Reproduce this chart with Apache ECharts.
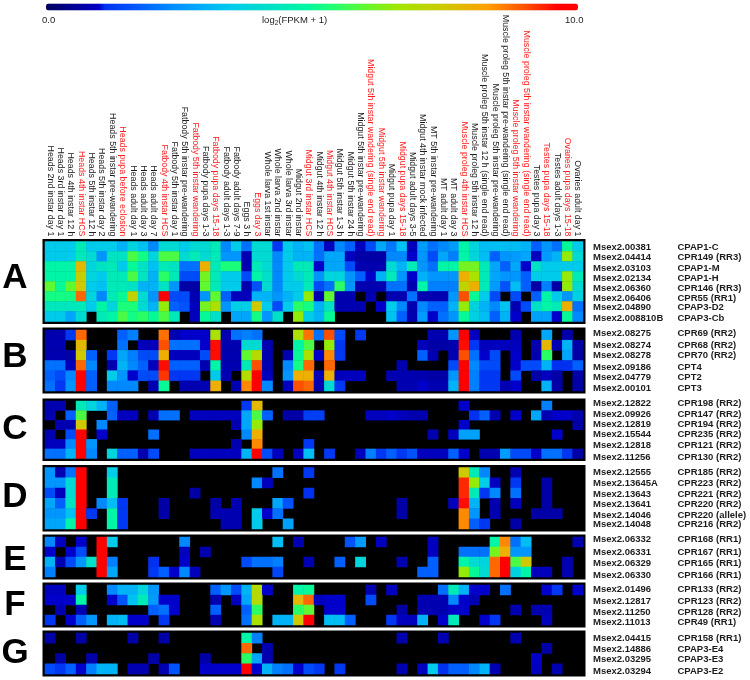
<!DOCTYPE html>
<html><head><meta charset="utf-8">
<style>html,body{margin:0;padding:0;background:#fff}#c{width:750px;height:680px}</style>
<script src="https://cdn.jsdelivr.net/npm/echarts@6/dist/echarts.min.js"></script>
</head><body><div id="c"></div>
<script>
const samples = ["Heads 2nd instar day 1","Heads 3rd instar day 1","Heads 4th instar 12 h","*Heads 4th instar HCS","Heads 5th instar 12 h","Heads 5th instar day 2","Heads 5th instar pre-wandering","*Heads pupa before eclosion","Heads adult day 1","Heads adult day 3","Heads adult day 7","*Fatbody 4th instar HCS","Fatbody 5th instar day 1","Fatbody 5th instar pre-wandering","*Fatbody 5th instar wandering","Fatbody pupa days 1-3","*Fatbody pupa days 15-18","Fatbody adult days 1-3","Fatbody adult days 7-9","Eggs 3 h","*Eggs day 3","Whole larva 1st instar","Whole larva 2nd instar","Whole larva 3rd instar","Midgut 2nd instar","*Midgut 3rd instar HCS","Midgut 4th instar 12 h","*Midgut 4th instar HCS","Midgut 5th instar 1-3 h","Midgut 5th instar 24 h","Midgut 5th instar pre-wandering","*Midgut 5th instar wandering (single end read)","*Midgut 5th instar wandering","Midgut pupa day 1","*Midgut pupa days 15-18","Midgut adult days 3-5","Midgut 4th instar mock infected","MT 5th instar pre-wandering","MT adult day 1","MT adult day 3","*Muscle proleg 4th instar HCS","Muscle proleg 5th instar 12 h","Muscle proleg 5th instar 12 h (single end read)","Muscle proleg 5th instar pre-wandering","Muscle proleg 5th instar pre-wandering (single end read)","*Muscle proleg 5th instar wandering","*Muscle proleg 5th instar wandering (single end read)","Testes pupa day 3","*Testes pupa days 15-18","Testes adult days 1-3","*Ovaries pupa days 15-18","Ovaries adult day 1"];

const panelA = [
[3.5,3.5,3.5,4.5,3.5,3.5,3.5,3,3.8,3.3, 2.3,4,4,3.5,4,4,4.5,2.3,3.5,2, 4,4,1.2,3.5,3,3.3,2,.9,2.3,1.8, .9,1.5,2.8,2.1,3.3,.9,2.6,2,2.3,2.6, 4.8,3.8,3.2,3.2,3.2,3.2,3,1.8,2.5,2, 5,3.5],
[3.5,3.5,3.5,4.5,4,2.5,4.3,4.3,5.8,5.2, 3.8,5.8,5.8,4,4.5,4,4.5,2.5,2.5,.8, 4,4,2.3,3.5,3,3,2,2.8,2.8,.9, .7,.7,.7,2.3,2.3,1,2.5,1.5,2.8,2.2, 4.8,3.8,3.2,1.8,2.5,2.6,2.8,.9,2.6,3, 6.5,4],
[4.8,4.8,4.8,7.8,3.8,4.3,4.5,3.5,5,4.3, 3.3,4.5,4.3,2,2,8,4.5,5.3,5.3,.8, 4.5,4,2.3,3.5,4.5,4.5,1,2.8,2.8,1.5, .8,.8,.8,4,3,4.5,2.5,2,4.8,4.8, 6.2,6.2,4.5,2.8,1.8,2.8,1,4.2,3.5,3.5, 3.5,3.5],
[4.8,4.8,4.8,7.3,3.8,3.5,4.5,4.5,5.8,4.3, 3,5.5,4.5,1.5,1.5,6.2,4.5,3.5,3.5,1.5, 4.8,4.2,2.3,3.5,4,4.5,2.5,3.8,3.8,2.5, 1.8,1,3,4.5,2.5,1,3,2.5,2.5,2.5, 8,6.8,4.5,2.8,2.5,2.5,1.8,3.5,3.5,3.5, 6.5,4.5],
[6,5,6,7.5,3.5,3.3,4.5,4.5,4.3,3, 3,4.3,2.5,.7,.7,6,4.5,3.5,3.5,.8, 1.6,4,2.3,3.5,3.5,4.5,1.5,2,5.5,2.5, .8,.8,.8,2,2,.8,4.8,2.2,2.2,2.2, 7.2,8,4.5,2.6,1.6,3.2,1.8,.7,2.2,.7, 6.5,4],
[5.2,5.2,5.2,8.8,3.8,2.3,4.5,5,7.2,4, 2.5,9.6,1.5,1.5,.8,2.5,6,1.8,.9,.9, 3,3,2.5,3,3.5,6.5,.8,6,.8,.8, 0,.8,0,.8,.8,2,.8,.8,.8,2.5, 9,5,3.5,1.5,0,1.5,0,1.8,4.8,3.5, 2.5,3.7],
[4.4,4.4,4.4,4.5,3.5,4.8,3.8,5.3,5.3,4, 3,6.5,1.8,1.6,.9,6.2,6.8,2.5,3.6,3.6, 7.5,3.5,1.5,3.5,5.5,5.2,3,4.2,.8,.8, .8,0,1,3.5,2.3,.8,2.3,1.8,1.8,3, 6.5,3.7,3,2.3,3.3,.8,1.5,4.2,4.8,4.5, 8,2],
[3.5,3.5,2.8,4,0,4.5,4.8,5.8,5.2,5.5, 5,5.8,4.5,0,.9,5,4.2,0,2.8,2.8, 5.2,2.5,4.2,0,6.5,3.6,3,5,0,0, 0,0,0,3.3,1.8,.8,2.6,1,2,2.5, 5,3.7,3.2,1.8,3,1,0,2.7,2.7,1, 5,2.3]
];
const panelB = [
[.8,.8,1.2,8.8,0,0,0,1.8,2.2,0, 0,8.7,.8,1,1,1,6.8,.8,2,2.2, 2,0,0,0,6.8,8.7,2,9,1.5,0, 1.2,0,0,0,0,0,0,.8,.8,2.5, 9.6,.9,0,0,0,.8,0,0,2.8,0, .7,0],
[.8,.8,0,7.8,0,0,0,2,0,.9, .9,9,2,2,2,1,9.5,.8,.8,4, 4,.8,0,0,4.8,5.8,0,6.5,1.2,0, 0,0,0,0,0,0,.9,.7,.7,.8, 9.5,1.2,.9,.9,.9,.9,0,.8,7.8,.8, 3,.7],
[.8,.8,.7,7.5,1.8,0,1.2,2.8,2.2,1.5, 1.5,8,.9,.9,.9,1.5,9.5,.8,.8,6, 7,.8,0,.8,5,6.8,1,8.5,1.2,0, 0,0,0,0,0,0,1.8,.8,0,.8, 9,2,1,1.5,0,1,0,.8,5.5,0, 2.8,.7],
[2,2,.9,8.8,2.3,0,.8,3,2.3,1.8, .9,9.5,1.8,1.8,1.8,.8,4.8,.8,.8,4.5, 9,.8,0,2.3,5.2,8.8,0,8.8,0,0, 0,0,0,0,.8,0,0,0,0,1.5, 9.6,2.3,1.5,1.5,0,1,1.5,1.5,3,1.1, 1.1,1.8],
[1.8,1.5,2.3,9.7,1.8,0,3.5,2.5,1,1.5, 1.5,9.2,1.2,1.2,1.2,0,3.5,.8,0,7, 9.6,.9,0,2.5,8,8,.9,8,.9,.9, .9,0,0,.8,.8,.8,.8,.7,.7,2.5, 9.8,2.2,1.2,1.2,0,1.5,0,.7,.9,.7, 0,.7],
[2,1.2,2.5,9.7,1.8,0,2.3,2.3,2.3,0, .8,5,0,.8,.8,.8,8,0,.8,8.5, 9.6,2.3,0,.9,9,8.8,.8,4,1.2,0, 0,0,0,0,.8,.8,1,.8,.8,3, 9.8,2.2,1.2,1.2,.8,1,0,0,3,.7, 0,.7]
];
const panelC = [
[.8,.8,0,4.5,3.8,3,1.8,0,0,0, 0,0,0,0,0,0,0,0,0,1.2, 7.8,0,0,0,0,0,0,0,0,0, 0,0,0,0,0,0,0,0,0,0, 1,0,0,0,0,0,0,0,2.2,0, 0,0],
[.8,0,1.8,5.8,0,0,1.8,.9,.9,0, .8,2,2,0,.9,.9,.9,.9,.9,2.8, 5.8,1.8,0,.7,.7,1.3,1.3,0,0,0, 0,.9,.9,1,.9,.8,.8,0,0,0, 0,1.1,1.8,.8,0,1,0,2.8,.8,1, 1,.8],
[0,.8,.8,7.5,0,2.3,0,0,0,0, 0,0,0,0,0,0,0,0,.8,2.8, 6.5,0,0,0,0,0,0,0,0,0, 0,0,0,0,0,0,0,0,0,0, 1,0,0,0,0,0,0,0,0,0, 0,.7],
[.8,0,1.5,9.6,0,1,0,0,0,0, 2,0,0,0,0,0,0,0,0,2.3, 8,0,0,0,0,0,0,0,0,0, 0,0,0,0,0,0,0,.8,0,.9, 2.7,2.7,0,0,0,0,0,0,0,1, 0,0],
[.9,.9,2.3,9.7,2.5,0,0,0,0,0, 0,0,0,0,0,0,0,0,.8,0, 8.5,0,0,0,0,1.2,0,0,0,0, 0,0,0,0,0,0,0,0,0,0, 0,0,0,0,0,0,0,0,0,0, 0,0],
[2,2,3,9.7,2.3,0,3.8,1.8,1.8,.8, 1.5,0,0,0,.9,.9,.9,.9,.9,3, 9.6,1.5,.9,0,.9,3.2,0,1.2,0,0, .9,2.2,1.2,1.8,1.2,1.6,.9,.9,.9,1.8, 1,0,.8,.8,2.6,1.5,1.5,1,2,2, 1.2,.7]
];
const panelD = [
[2.5,.8,2,9.8,0,0,3.6,0,0,0, 0,0,0,0,0,0,0,0,0,0, 0,0,2,0,0,1.2,0,0,0,0, 0,0,0,0,0,0,0,0,0,0, 7.5,4.5,2.3,0,0,.8,0,0,0,0, 0,0],
[2.5,2.5,4,9.8,0,0,4.5,0,0,0, 0,0,0,0,0,0,0,0,0,0, 2.3,.9,0,0,0,0,0,0,0,0, 0,0,0,0,0,0,0,0,0,0, 9.3,6.5,3.6,.9,0,1.2,0,0,.7,0, 0,0],
[1.5,.9,4,9.8,0,0,4.5,0,0,0, 0,0,0,0,.7,0,0,0,0,0, 0,0,0,0,0,1.1,0,0,0,0, 0,0,0,0,0,0,0,0,0,0, 9.3,4.5,1.2,2.3,0,2,0,0,.7,0, 0,0],
[2.8,1.8,4.3,9.8,0,2.3,3.2,1.2,0,0, 0,.7,0,0,0,0,.7,0,.8,0, 0,0,2.8,1.6,0,0,0,0,0,0, 0,0,0,0,.7,0,0,0,0,.9, 9.5,3,0,.8,0,.9,0,0,.7,0, 0,0],
[2.5,2.5,3.3,9.8,1.2,0,4.8,1.2,0,0, 0,.7,0,0,0,0,.8,.8,.8,0, 3.5,1,2,0,0,0,0,0,0,0, 0,0,0,0,.7,0,0,0,0,0, 8.5,2.5,0,.8,0,0,0,.7,.7,.7, 0,0],
[2.8,2.8,4.8,9.8,0,0,4.8,1.2,0,0, 0,0,0,0,0,0,0,.8,.8,0, 3.5,0,0,2.7,0,0,0,0,0,0, 0,0,0,0,0,0,0,0,0,0, 8.5,1.8,1.2,0,0,.7,0,0,0,0, 0,0]
];
const panelE = [
[2.3,.9,0,1,0,9.7,3.5,0,0,0, 0,0,0,2.3,0,0,0,0,0,0, 0,0,3.2,0,.8,0,0,0,0,1.6, 2.6,0,.9,0,0,0,0,.9,0,0, 0,0,0,4.8,8.5,2,3.2,0,0,0, 0,.8],
[1,0,1,1.5,0,9.7,0,0,0,0, 0,0,0,.9,0,.8,0,0,0,0, 0,0,0,0,0,0,0,0,0,0, 0,0,0,0,0,0,0,.9,0,0, 2,2,2,6.2,8,2.5,2.5,0,0,0, 0,0],
[3,.8,1.5,2.5,4.2,9.7,2.2,0,0,0, 1.1,0,0,1,0,0,0,0,0,1.5, 2,2,2.2,0,0,.8,0,0,1.8,0, 3.8,0,0,0,.8,0,0,1.8,0,0, 4.8,4,3.8,8.8,9.7,5.8,7.5,0,0,0, .8,0],
[2.2,0,0,0,0,9.7,2.8,0,0,0, 1.2,1.8,1,2.3,.9,0,0,0,0,0, 0,0,1.4,0,0,0,0,0,0,0, 0,0,0,0,0,0,1.8,1.8,0,0, 6.5,5,4,8.8,9.7,3.7,4.8,.9,.9,0, .8,0]
];
const panelF = [
[.9,.9,0,3.5,0,0,2.3,3,3,3.8, 2.5,0,0,0,0,0,1.8,2.5,1.5,3, 7,1,0,0,4.8,5,0,0,0,0, 0,.8,0,.9,0,0,0,0,2,4.5, 3,1,1,0,2,0,0,0,1,1.2, 0,1],
[1,1,1,4.8,0,0,1,1.6,3.3,4.5, 2.6,1,1,0,0,0,.8,0,.9,2.8, 7,0,0,0,7.8,8.8,.9,1,1,0, 0,1.5,0,0,0,0,.8,.8,.8,2.3, 1,.8,0,0,0,0,0,0,0,0, 0,0],
[0,.8,0,.8,0,0,0,0,0,0, 1.8,2,1,0,0,0,1.8,0,0,1.8, 5.5,0,0,0,5.5,6,0,1,1,0, 0,0,0,0,.7,0,.8,.8,.8,1, 1,0,0,0,0,.8,0,.8,.8,0, 0,0],
[1.2,0,1,1.8,2.5,0,3,3.2,1,1, 0,1.2,0,0,0,0,.8,0,0,2, 6.8,0,3,3,7.5,9.7,0,3.2,3.2,1.8, 0,0,0,1.2,.9,.9,3,0,1,4.5, 0,0,1,1.2,0,0,0,0,.9,0, 0,0]
];
const panelG = [
[.7,0,0,.7,0,0,0,0,.7,0, 0,.7,0,0,0,0,0,0,0,4.8, 2.2,0,0,0,0,0,0,0,0,0, 0,0,0,0,.8,0,0,0,.8,0, 0,0,0,0,0,.8,0,0,0,0, 0,0],
[0,0,0,0,0,0,0,0,0,0, 0,0,0,0,0,0,0,0,0,8.8, 0,.8,0,0,0,0,0,0,0,0, 0,0,0,0,0,0,0,0,0,0, 0,0,0,0,0,0,0,0,.7,0, 0,0],
[0,.7,0,0,.7,0,0,0,0,0, .7,0,0,0,0,.7,0,0,0,5.5, 2.8,.8,0,0,0,0,0,0,0,0, 0,0,0,0,0,0,0,0,0,0, 0,0,0,0,0,0,0,1,0,0, 0,0],
[1.5,1.2,1.8,1,2.2,3,3,0,.8,.8, 0,.8,1.6,0,0,1,1,1,1,9.7, 1,3,2.2,2,1,1.5,1.2,0,1.2,0, 0,0,0,0,.8,0,.9,3.5,1.1,1.8, 1.8,2.3,3,.8,0,0,0,.9,0,.8, 0,0]
];
const panelNames = ["A","B","C","D","E","F","G"];
const geneIds = ["Msex2.00381","Msex2.04414","Msex2.03103","Msex2.02134","Msex2.06360","Msex2.06406","Msex2.04890","Msex2.008810B","Msex2.08275","Msex2.08274","Msex2.08278","Msex2.09186","Msex2.04779","Msex2.00101","Msex2.12822","Msex2.09926","Msex2.12819","Msex2.15544","Msex2.12818","Msex2.11256","Msex2.12555","Msex2.13645A","Msex2.13643","Msex2.13641","Msex2.14046","Msex2.14048","Msex2.06332","Msex2.06331","Msex2.06329","Msex2.06330","Msex2.01496","Msex2.12817","Msex2.11250","Msex2.11013","Msex2.04415","Msex2.14886","Msex2.03295","Msex2.03294"];
const geneNames = ["CPAP1-C","CPR149 (RR3)","CPAP1-M","CPAP1-H","CPR146 (RR3)","CPR55 (RR1)","CPAP3-D2","CPAP3-Cb","CPR69 (RR2)","CPR68 (RR2)","CPR70 (RR2)","CPT4","CPT2","CPT3","CPR198 (RR2)","CPR147 (RR2)","CPR194 (RR2)","CPR235 (RR2)","CPR121 (RR2)","CPR130 (RR2)","CPR185 (RR2)","CPR223 (RR2)","CPR221 (RR2)","CPR220 (RR2)","CPR220 (allele)","CPR216 (RR2)","CPR168 (RR1)","CPR167 (RR1)","CPR165 (RR1)","CPR166 (RR1)","CPR133 (RR2)","CPR123 (RR2)","CPR128 (RR2)","CPR49 (RR1)","CPR158 (RR1)","CPAP3-E4","CPAP3-E3","CPAP3-E2"];

// layout
const labelY = [247,257.7,268,278,288,298,307,318,333,345,355,367,377,388,403,414,424,434,445,457,472,483,494,504,515,524,539,552,563,575,589,601,612,622,638,649,659,671];
const panels = [
 {rows:panelA, top:241.5, h:80,   letterY:278},
 {rows:panelB, top:330,   h:61,   letterY:357},
 {rows:panelC, top:401,   h:57.5, letterY:429},
 {rows:panelD, top:467.5, h:61.5, letterY:497},
 {rows:panelE, top:537,   h:40,   letterY:560},
 {rows:panelF, top:585,   h:40,   letterY:605},
 {rows:panelG, top:633,   h:41,   letterY:653}
];
const GRID_L=45, GRID_W=538;
const stops=[[0,[0,0,96]],[.8,[0,0,176]],[1.05,[0,0,208]],[1.1,[0,48,240]],[1.8,[0,96,255]],[2.4,[0,144,255]],[3.4,[0,200,240]],[4.2,[0,224,200]],[4.9,[0,248,160]],[5.4,[32,255,112]],[6,[96,248,48]],[6.6,[160,232,0]],[7.5,[208,200,0]],[8.3,[255,160,0]],[9,[255,80,0]],[9.6,[255,0,0]],[10,[255,0,0]]];
function colorAt(v){for(let i=1;i<stops.length;i++){if(v<=stops[i][0]){const a=stops[i-1],b=stops[i],t=(v-a[0])/(b[0]-a[0]);return 'rgb('+a[1].map((c,k)=>Math.round(c+(b[1][k]-c)*t)).join(',')+')';}}return '#f00';}
const ramp=[];for(let i=0;i<=200;i++)ramp.push(colorAt(i*0.05));

const catLabels=samples.map(s=>s.replace(/^\*/,''));
const redFlag=samples.map(s=>s[0]==='*');
const FONT='"Liberation Sans",Arial,sans-serif';
const grids=[],xAxes=[],yAxes=[],series=[],graphics=[];
panels.forEach((p,idx)=>{
  p.rows.forEach(r=>{if(r.length!==52)throw new Error('row len '+panelNames[idx]+' '+r.length);});
  grids.push({left:GRID_L,width:GRID_W,top:p.top,height:p.h,show:true,backgroundColor:'#000',borderColor:'#000',borderWidth:5,containLabel:false});
  xAxes.push({type:'category',gridIndex:idx,data:catLabels,position:'top',show:idx===0,
    axisLine:{show:false},axisTick:{show:false},splitLine:{show:false},splitArea:{show:false},
    axisLabel:{show:idx===0,interval:0,rotate:90,margin:5,fontSize:8.85,fontFamily:FONT,
      color:(v,i)=>redFlag[i]?'#ff1a1a':'#1a1a1a'}});
  yAxes.push({type:'category',gridIndex:idx,inverse:true,show:false,data:p.rows.map((_,i)=>i)});
  const d=[];p.rows.forEach((r,y)=>r.forEach((v,x)=>{if(v>0)d.push([x,y,v]);}));
  series.push({type:'heatmap',xAxisIndex:idx,yAxisIndex:idx,data:d,silent:true,progressive:0,itemStyle:{borderWidth:0},emphasis:{disabled:true}});
  graphics.push({type:'text',x:15,y:p.letterY,style:{text:panelNames[idx],fill:'#000',font:'bold 35px '+FONT,textAlign:'center',textVerticalAlign:'middle'}});
});
geneIds.forEach((g,i)=>{
  graphics.push({type:'text',x:593,y:labelY[i],style:{text:g,fill:'#1c1c1c',font:'bold 9.5px '+FONT,textVerticalAlign:'middle'}});
  graphics.push({type:'text',x:677.5,y:labelY[i],style:{text:geneNames[i],fill:'#1c1c1c',font:'bold 9.5px '+FONT,textVerticalAlign:'middle'}});
});
graphics.push({type:'text',x:42,y:20.5,style:{text:'0.0',fill:'#222',font:'9.5px '+FONT,textVerticalAlign:'middle'}});
graphics.push({type:'text',x:565,y:20.5,style:{text:'10.0',fill:'#222',font:'9.5px '+FONT,textVerticalAlign:'middle'}});
graphics.push({type:'text',x:262,y:20.5,style:{text:'log{s|2}(FPKM + 1)',fill:'#222',font:'9.5px '+FONT,textVerticalAlign:'middle',
  rich:{s:{fontSize:6.5,fontFamily:FONT,fill:'#222',verticalAlign:'bottom',padding:[5,0,0,0]}}}});

const chart=echarts.init(document.getElementById('c'),null,{renderer:'canvas'});
chart.setOption({
  animation:false,backgroundColor:'#fff',
  grid:grids,xAxis:xAxes,yAxis:yAxes,series:series,
  visualMap:{type:'continuous',min:0,max:10,orient:'horizontal',left:46,top:3.5,padding:0,itemWidth:7,itemHeight:532,
    calculable:false,realtime:false,hoverLink:false,showLabel:false,text:null,inRange:{color:ramp},seriesIndex:series.map((_,i)=>i)},
  graphic:graphics
});
</script></body></html>
